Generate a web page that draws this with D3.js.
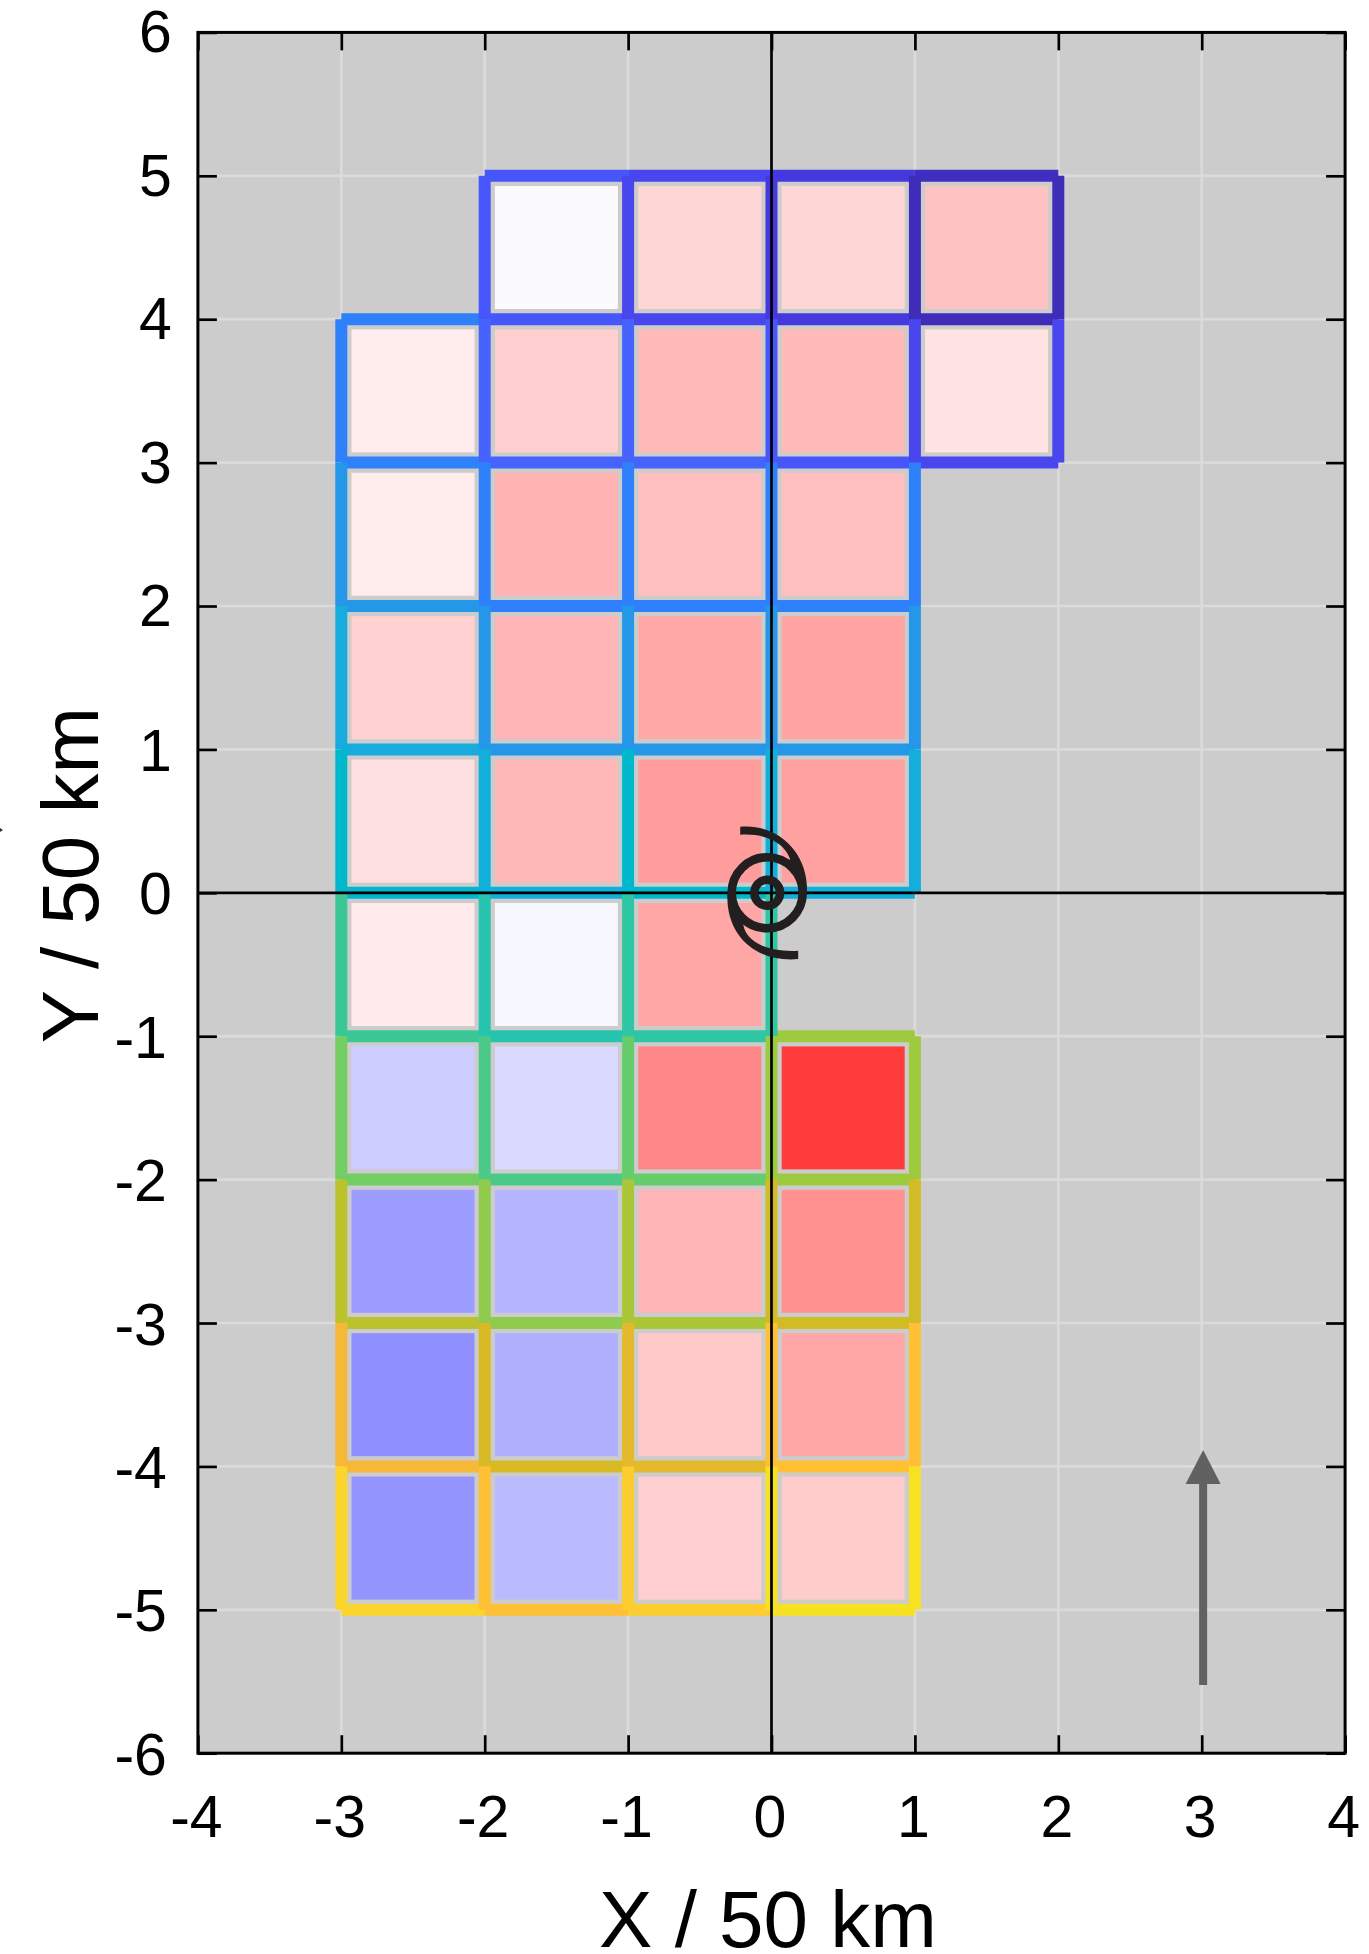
<!DOCTYPE html>
<html>
<head>
<meta charset="utf-8">
<script src="https://cdn.jsdelivr.net/npm/d3@7"></script>
<style>
    body { margin: 0; background: #fff; }
    svg { display: block; }
    text { font-family: "Liberation Sans", Arial, sans-serif; fill: #000; }
</style>
</head>
<body>
<script>
var xTicks = [-4, -3, -2, -1, 0, 1, 2, 3, 4];
var yTicks = [6, 5, 4, 3, 2, 1, 0, -1, -2, -3, -4, -5, -6];

// cells: each row has its top y and the x where it starts
var rowTops = [5, 4, 3, 2, 1, 0, -1, -2, -3, -4];
var rowStarts = [-2, -3, -3, -3, -3, -3, -3, -3, -3, -3];
var cellValues = [
    [-0.02, 0.16, 0.16, 0.24],
    [0.07, 0.19, 0.27, 0.27, 0.11],
    [0.07, 0.30, 0.25, 0.25],
    [0.18, 0.29, 0.34, 0.36],
    [0.12, 0.28, 0.39, 0.37],
    [0.08, -0.03, 0.35],
    [-0.20, -0.15, 0.47, 0.76],
    [-0.39, -0.29, 0.29, 0.43],
    [-0.44, -0.31, 0.21, 0.35],
    [-0.42, -0.27, 0.19, 0.20]
];

// horizontal edges, one row per grid line
var hEdgeY = [5, 4, 3, 2, 1, 0, -1, -2, -3, -4, -5];
var hEdgeStarts = [-2, -3, -3, -3, -3, -3, -3, -3, -3, -3, -3];
var hEdgeValues = [
    [0.15, 0.10, 0.05, 0.01],
    [0.25, 0.15, 0.10, 0.05, 0.00],
    [0.25, 0.19, 0.19, 0.15, 0.10],
    [0.30, 0.25, 0.25, 0.25],
    [0.35, 0.30, 0.30, 0.30],
    [0.44, 0.40, 0.45, 0.39],
    [0.55, 0.50, 0.52, 0.70],
    [0.64, 0.57, 0.61, 0.70],
    [0.75, 0.68, 0.72, 0.79],
    [0.85, 0.80, 0.82, 0.90],
    [0.95, 0.90, 0.93, 1.00]
];

// vertical edges, one column per grid line, listed from the top down
var vEdgeX = [-3, -2, -1, 0, 1, 2];
var vEdgeTops = [4, 5, 5, 5, 5, 5];
var vEdgeValues = [
    [0.25, 0.30, 0.35, 0.45, 0.55, 0.64, 0.75, 0.85, 0.95],
    [0.15, 0.19, 0.25, 0.30, 0.40, 0.50, 0.57, 0.68, 0.80, 0.90],
    [0.10, 0.19, 0.25, 0.30, 0.45, 0.52, 0.61, 0.72, 0.82, 0.93],
    [0.05, 0.15, 0.25, 0.30, 0.39, 0.52, 0.70, 0.79, 0.90, 1.00],
    [0.00, 0.10, 0.25, 0.30, 0.38, null, 0.70, 0.79, 0.90, 1.00],
    [0.00, 0.10]
];

var edgeStops = [0, 0.05, 0.10, 0.15, 0.20, 0.25, 0.30, 0.35, 0.40, 0.45, 0.50, 0.55, 0.60, 0.65, 0.70, 0.75, 0.80, 0.85, 0.90, 0.95, 1];
var edgeColors = ["#3f2cb8", "#4438de", "#4846ec", "#4656fa", "#4666ff", "#2f80fb", "#2497e8", "#18abde", "#10b0da", "#00b8cc", "#26c4ae", "#3cc896", "#62cd70", "#76ce60", "#9fca40", "#bcc22c", "#d8bb24", "#f6b838", "#ffc034", "#fbd52c", "#f6e222"];

var arrowFrom = -5.525;
var arrowTo = -3.885;
var arrowX = 3.01;
var cycloneX = -0.03;
var cycloneY = 0;

var width = 1369;
var height = 1954;
var edgeWidth = 12;
var cellInset = 10.2;

var x = d3.scaleLinear().domain([-4, 4]).range([197.9, 1345.1]);
var y = d3.scaleLinear().domain([-6, 6]).range([1753.2, 32.4]);
var edgeColor = d3.scaleLinear().domain(edgeStops).range(edgeColors);
var cellColor = d3.scaleLinear().domain([-1, 0, 1]).range(["#0000ff", "#ffffff", "#ff0000"]);

var svg = d3.select("body").append("svg")
    .attr("width", width)
    .attr("height", height);

svg.append("rect")
    .attr("x", x(-4))
    .attr("y", y(6))
    .attr("width", x(4) - x(-4))
    .attr("height", y(-6) - y(6))
    .attr("fill", "#cccccc");

// grid
svg.selectAll(".gridx").data(xTicks.slice(1, -1)).enter().append("line")
    .attr("class", "gridx")
    .attr("x1", (d) => x(d)).attr("x2", (d) => x(d))
    .attr("y1", y(6)).attr("y2", y(-6))
    .attr("stroke", "#dbdbdb").attr("stroke-width", 2.7);
svg.selectAll(".gridy").data(yTicks.slice(1, -1)).enter().append("line")
    .attr("class", "gridy")
    .attr("x1", x(-4)).attr("x2", x(4))
    .attr("y1", (d) => y(d)).attr("y2", (d) => y(d))
    .attr("stroke", "#dbdbdb").attr("stroke-width", 2.7);

// flatten the small arrays into marks
var cells = [];
rowTops.forEach((top, i) => {
    cellValues[i].forEach((v, j) => {
        cells.push({ x: rowStarts[i] + j, top: top, value: v });
    });
});
var edges = [];
hEdgeY.forEach((yv, i) => {
    hEdgeValues[i].forEach((v, j) => {
        edges.push({ x1: hEdgeStarts[i] + j, x2: hEdgeStarts[i] + j + 1, y1: yv, y2: yv, value: v });
    });
});
vEdgeX.forEach((xv, i) => {
    vEdgeValues[i].forEach((v, j) => {
        if (v !== null) {
            edges.push({ x1: xv, x2: xv, y1: vEdgeTops[i] - j, y2: vEdgeTops[i] - j - 1, value: v });
        }
    });
});

svg.selectAll(".cellback").data(cells).enter().append("rect")
    .attr("class", "cellback")
    .attr("x", (d) => x(d.x))
    .attr("y", (d) => y(d.top))
    .attr("width", x(1) - x(0))
    .attr("height", y(0) - y(1))
    .attr("fill", "#cccccc");

svg.selectAll(".cell").data(cells).enter().append("rect")
    .attr("class", "cell")
    .attr("x", (d) => x(d.x) + cellInset)
    .attr("y", (d) => y(d.top) + cellInset)
    .attr("width", x(1) - x(0) - 2 * cellInset)
    .attr("height", y(0) - y(1) - 2 * cellInset)
    .attr("fill", (d) => cellColor(d.value));

svg.selectAll(".edge").data(edges).enter().append("line")
    .attr("class", "edge")
    .attr("x1", (d) => x(d.x1)).attr("x2", (d) => x(d.x2))
    .attr("y1", (d) => y(d.y1)).attr("y2", (d) => y(d.y2))
    .attr("stroke", (d) => edgeColor(d.value))
    .attr("stroke-width", edgeWidth);

// zero lines
svg.append("line")
    .attr("x1", x(0)).attr("x2", x(0))
    .attr("y1", y(6)).attr("y2", y(-6))
    .attr("stroke", "#000").attr("stroke-width", 2.7);
svg.append("line")
    .attr("x1", x(-4)).attr("x2", x(4))
    .attr("y1", y(0)).attr("y2", y(0))
    .attr("stroke", "#000").attr("stroke-width", 2.7);

// axes, ticks point inward on all four sides
var bottomAxis = d3.axisBottom(x).tickValues(xTicks).tickSize(-18).tickFormat((d) => d);
var gb = svg.append("g").attr("transform", "translate(0," + y(-6) + ")").call(bottomAxis);
gb.selectAll("text")
    .attr("x", -2)
    .attr("y", 84).attr("dy", 0)
    .attr("font-size", 59);

var topAxis = d3.axisTop(x).tickValues(xTicks).tickSize(-18).tickFormat("");
svg.append("g").attr("transform", "translate(0," + y(6) + ")").call(topAxis);

var leftAxis = d3.axisLeft(y).tickValues(yTicks).tickSize(-19).tickFormat((d) => d);
var gl = svg.append("g").attr("transform", "translate(" + x(-4) + ",0)").call(leftAxis);
gl.selectAll("text")
    .attr("x", (d) => d < 0 ? -31 : -26)
    .attr("dy", (d) => d > 1 ? 19.5 : 21)
    .attr("font-size", 59);

var rightAxis = d3.axisRight(y).tickValues(yTicks).tickSize(-19).tickFormat("");
svg.append("g").attr("transform", "translate(" + x(4) + ",0)").call(rightAxis);

svg.selectAll(".domain").attr("stroke", "none");
svg.selectAll(".tick line").attr("stroke", "#000").attr("stroke-width", 2.7);

svg.append("rect")
    .attr("x", x(-4))
    .attr("y", y(6))
    .attr("width", x(4) - x(-4))
    .attr("height", y(-6) - y(6))
    .attr("fill", "none")
    .attr("stroke", "#000")
    .attr("stroke-width", 3);

// arrow
svg.append("line")
    .attr("x1", x(arrowX)).attr("x2", x(arrowX))
    .attr("y1", y(arrowFrom)).attr("y2", y(arrowTo) + 30)
    .attr("stroke", "#616161").attr("stroke-width", 8);
svg.append("path")
    .attr("transform", "translate(" + x(arrowX) + "," + y(arrowTo) + ")")
    .attr("d", "M0,0L17.5,34L-17.5,34Z")
    .attr("fill", "#616161");

// cyclone symbol
var cyc = svg.append("g")
    .attr("transform", "translate(" + x(cycloneX) + "," + y(cycloneY) + ")");
cyc.append("circle").attr("r", 13).attr("fill", "none").attr("stroke", "#231f20").attr("stroke-width", 8.4);
cyc.append("circle").attr("r", 35.5).attr("fill", "none").attr("stroke", "#231f20").attr("stroke-width", 8.6);
cyc.append("path").attr("d", "M-27,-66C10,-70 42,-40 39.7,0L24,-28C22,-48 0,-60 -27,-58Z").attr("fill", "#231f20");
cyc.append("path").attr("d", "M31,66.3C-12,70 -42,42 -39.7,0L-24,28C-25,45 -5,60 31,58Z").attr("fill", "#231f20");

// axis titles
svg.append("text")
    .attr("x", 768)
    .attr("y", 1947)
    .attr("text-anchor", "middle")
    .attr("font-size", 80)
    .text("X / 50 km");
svg.append("text")
    .attr("transform", "translate(98,875) rotate(-90)")
    .attr("text-anchor", "middle")
    .attr("font-size", 80)
    .text("Y / 50 km");

// tiny stray mark at the left edge of the source figure
svg.append("path").attr("d", "M0,828L3,830L0,832Z").attr("fill", "#333");
</script>
</body>
</html>
